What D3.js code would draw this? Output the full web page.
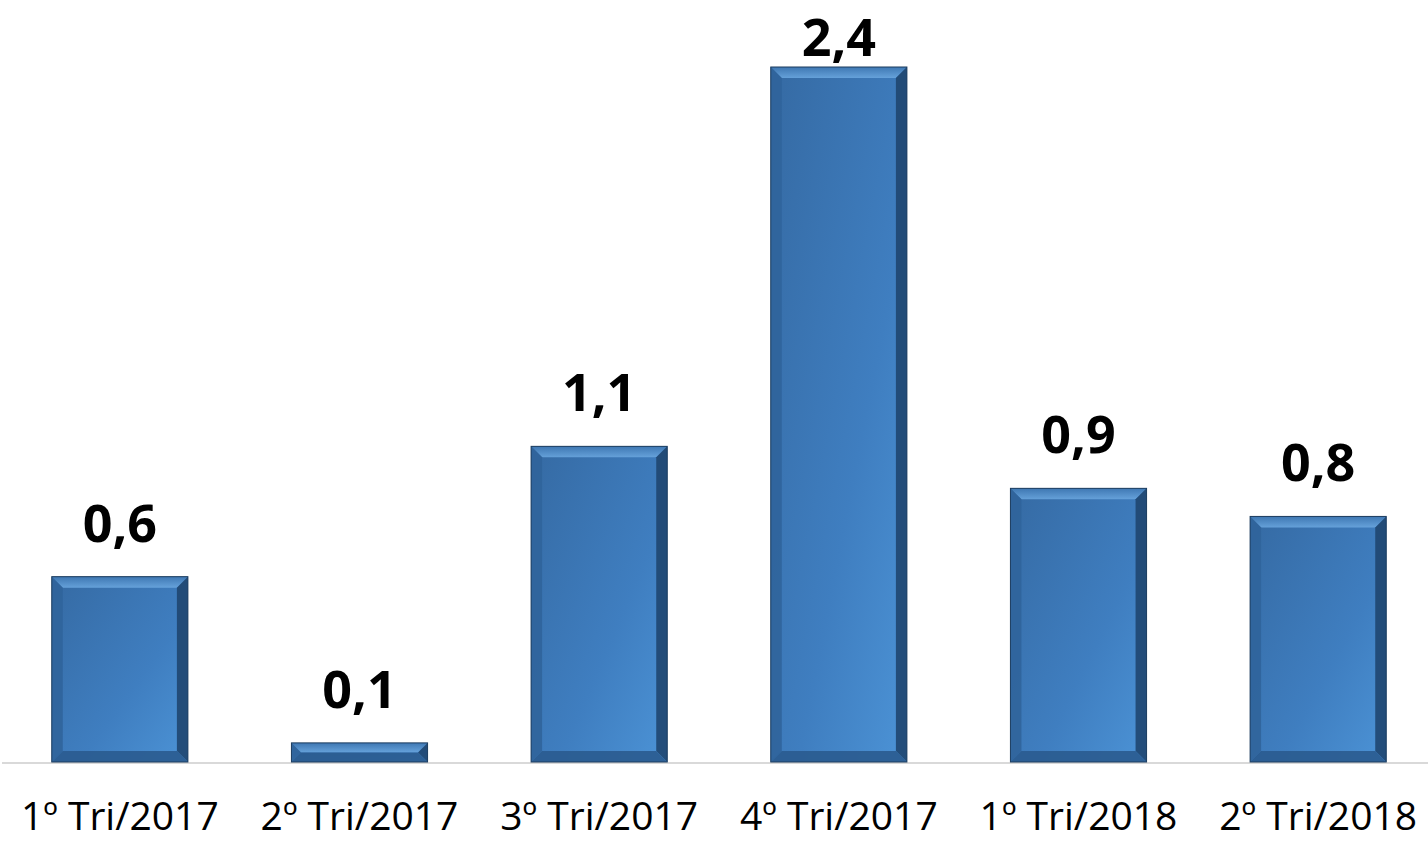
<!DOCTYPE html>
<html>
<head>
<meta charset="utf-8">
<script src="https://cdn.jsdelivr.net/npm/d3@7"></script>
<style>
  html, body { margin: 0; padding: 0; background: #fff; }
  svg { display: block; }
</style>
</head>
<body>
<svg id="chart" width="1428" height="843"></svg>
<script>
// data (labels show one decimal)
const categories = ["1º Tri/2017", "2º Tri/2017", "3º Tri/2017", "4º Tri/2017", "1º Tri/2018", "2º Tri/2018"];
const values = [0.64, 0.066, 1.09, 2.40, 0.945, 0.848];

const width = 1428, height = 843;
const baseY = 762;

const svg = d3.select("#chart");

const x = d3.scaleBand()
    .domain(categories)
    .range([0, 1438])
    .paddingInner(0.432)
    .paddingOuter(0.216);

const y = d3.scaleLinear()
    .domain([0, 2.4])
    .range([baseY, 67]);

const fmt = v => d3.format(".1f")(v).replace(".", ",");

// gradients for the bevelled bars
const defs = svg.append("defs");
const face = defs.append("linearGradient").attr("id", "face")
    .attr("x1", 0).attr("y1", 0).attr("x2", 1).attr("y2", 1);
face.append("stop").attr("offset", "0%").attr("stop-color", "#356aa3");
face.append("stop").attr("offset", "60%").attr("stop-color", "#3f7ec0");
face.append("stop").attr("offset", "100%").attr("stop-color", "#4c93d6");

const topBev = defs.append("linearGradient").attr("id", "topBev")
    .attr("x1", 0).attr("y1", 0).attr("x2", 0).attr("y2", 1);
topBev.append("stop").attr("offset", "0%").attr("stop-color", "#3f78b3");
topBev.append("stop").attr("offset", "100%").attr("stop-color", "#6aa6de");

// axis line
svg.append("line")
    .attr("x1", 2).attr("x2", width)
    .attr("y1", baseY + 1).attr("y2", baseY + 1)
    .attr("stroke", "#d9d9d9").attr("stroke-width", 2);

const bar = svg.selectAll(".bar")
    .data(values)
    .enter()
    .append("g")
    .attr("class", "bar");

const bev = 11;

bar.append("rect")
    .attr("x", (d, i) => x(categories[i]))
    .attr("y", d => y(d))
    .attr("width", x.bandwidth())
    .attr("height", d => baseY - y(d))
    .attr("fill", "url(#face)");

// bevel edges: top light, left mid, right dark, bottom dark
function bevels(d, i) {
    const x0 = x(categories[i]), x1 = x0 + x.bandwidth();
    const y0 = y(d), y1 = baseY;
    const b = Math.min(bev, (y1 - y0) / 2);
    return [
        { pts: [[x0, y0], [x1, y0], [x1 - b, y0 + b], [x0 + b, y0 + b]], fill: "url(#topBev)" },
        { pts: [[x0, y0], [x0 + b, y0 + b], [x0 + b, y1 - b], [x0, y1]], fill: "#30649b" },
        { pts: [[x1, y0], [x1, y1], [x1 - b, y1 - b], [x1 - b, y0 + b]], fill: "#1f4670" },
        { pts: [[x0, y1], [x0 + b, y1 - b], [x1 - b, y1 - b], [x1, y1]], fill: "#2a5b8f" }
    ];
}

bar.selectAll(".bevel")
    .data((d, i) => bevels(d, i))
    .enter()
    .append("polygon")
    .attr("class", "bevel")
    .attr("points", p => p.pts.map(q => q.join(",")).join(" "))
    .attr("fill", p => p.fill)
    .attr("opacity", 0.9);

bar.append("rect")
    .attr("x", (d, i) => x(categories[i]))
    .attr("y", d => y(d))
    .attr("width", x.bandwidth())
    .attr("height", d => baseY - y(d))
    .attr("fill", "none")
    .attr("stroke", "#1d3d5f")
    .attr("stroke-width", 1);

// value labels
bar.append("text")
    .attr("x", (d, i) => x(categories[i]) + x.bandwidth() / 2)
    .attr("y", d => Math.max(56, y(d) - 35))
    .attr("text-anchor", "middle")
    .attr("font-family", "'Open Sans', sans-serif")
    .attr("font-weight", "bold")
    .attr("font-size", 52)
    .attr("fill", "#000")
    .text(d => fmt(d));

// category labels
svg.selectAll(".cat")
    .data(categories)
    .enter()
    .append("text")
    .attr("class", "cat")
    .attr("x", d => x(d) + x.bandwidth() / 2)
    .attr("y", 830)
    .attr("text-anchor", "middle")
    .attr("font-family", "'Open Sans', sans-serif")
    .attr("font-size", 39)
    .attr("fill", "#000")
    .text(d => d);
</script>
</body>
</html>
